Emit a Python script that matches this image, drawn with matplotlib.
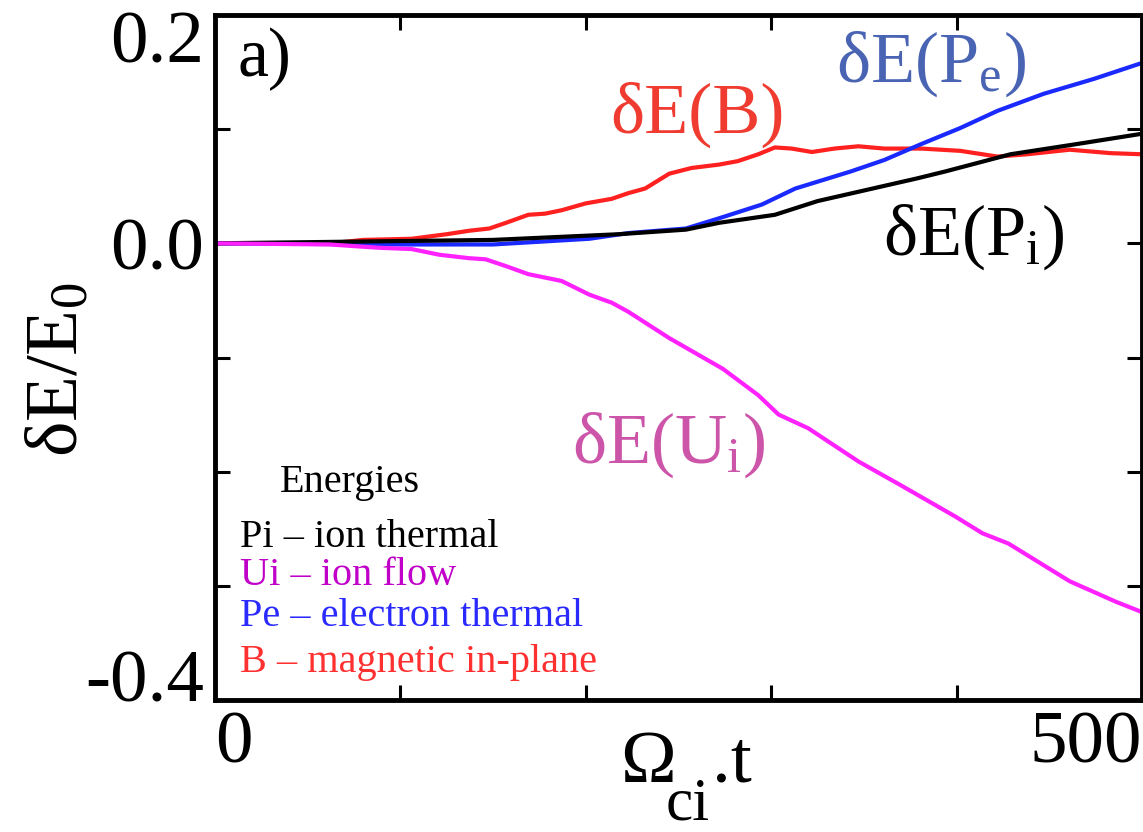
import numpy as np
import matplotlib
matplotlib.use("Agg")
import matplotlib.pyplot as plt
import matplotlib.transforms as mtransforms

plt.rcParams['font.family'] = ['Liberation Serif', 'DejaVu Serif']
plt.rcParams['mathtext.fontset'] = 'custom'
plt.rcParams['mathtext.rm'] = 'Liberation Serif'
plt.rcParams['mathtext.it'] = 'Liberation Serif:italic'

# energy changes (time in 1/Omega_ci, dE/E0)
t_b = [0, 62, 80, 106, 125, 137, 148, 157, 169, 178, 187, 200, 214, 223, 232, 245, 257,
       272, 282, 293, 302, 311, 322, 334, 347, 361, 374, 381, 402, 422, 438, 461, 483, 500]
e_b = [0, 0, 0.003, 0.004, 0.008, 0.011, 0.013, 0.018, 0.025, 0.026, 0.029, 0.035, 0.039,
       0.044, 0.048, 0.061, 0.066, 0.069, 0.072, 0.078, 0.084, 0.083, 0.080, 0.083, 0.085,
       0.083, 0.083, 0.083, 0.081, 0.076, 0.078, 0.082, 0.079, 0.078]

t_pe = [0, 100, 150, 202, 223, 254, 272, 295, 313, 343, 361, 381, 402, 422, 447, 474, 500]
e_pe = [0, -0.001, -0.001, 0.004, 0.009, 0.013, 0.022, 0.034, 0.048, 0.063, 0.073, 0.087,
        0.101, 0.116, 0.131, 0.144, 0.158]

t_pi = [0, 150, 218, 254, 272, 302, 325, 352, 379, 394, 429, 465, 500]
e_pi = [0, 0.003, 0.008, 0.012, 0.018, 0.025, 0.037, 0.047, 0.057, 0.063, 0.078, 0.087, 0.096]

t_ui = [0, 62, 80, 90, 106, 121, 137, 146, 157, 169, 178, 187, 202, 214, 223, 245, 274,
        293, 304, 320, 347, 370, 399, 414, 428, 461, 486, 500]
e_ui = [0, -0.001, -0.003, -0.004, -0.005, -0.010, -0.013, -0.014, -0.020, -0.027, -0.030,
        -0.033, -0.045, -0.052, -0.060, -0.083, -0.110, -0.133, -0.150, -0.162, -0.191,
        -0.212, -0.239, -0.254, -0.263, -0.296, -0.314, -0.323]

x_ticks = [0, 100, 200, 300, 400, 500]
x_labels = ['0', '', '', '', '', '500']
y_ticks = [-0.4, -0.3, -0.2, -0.1, 0.0, 0.1, 0.2]

W, H = 1143, 832
fig = plt.figure(figsize=(W / 100, H / 100), dpi=100)
ax = fig.add_axes([215 / W, (H - 700) / H, 927 / W, 685 / H])

ax.plot(t_b, e_b, color='#ff2020', lw=3)
ax.plot(t_pe, e_pe, color='#1a2aff', lw=3)
ax.plot(t_pi, e_pi, color='black', lw=3)
ax.plot(t_ui, e_ui, color='#ff22ff', lw=3)

ax.set_xlim(0, 500)
ax.set_ylim(-0.4, 0.2)
ax.set_xticks(x_ticks)
ax.set_xticklabels(x_labels, fontsize=54)
labs = ax.get_xticklabels()
labs[0].set_ha('left')
labs[-1].set_ha('right')
ax.set_yticks(y_ticks)
ax.set_yticklabels([])
ax.tick_params(direction='in', length=11, width=2.2, top=True, right=True, pad=8)
for s in ax.spines.values():
    s.set_linewidth(3.5)

# y tick labels, end labels pulled inward like the original
ytr = mtransforms.blended_transform_factory(ax.transAxes, ax.transData)
for val, txt in [(0.158, '0.2'), (-0.0228, '0.0'), (-0.401, '-0.4')]:
    ax.text(-0.012, val, txt, transform=ytr, ha='right', va='baseline', fontsize=54)

# axis labels
fig.text(60 / W, 1 - 370 / H, 'δE/E$_0$', rotation=90, ha='center', va='center', fontsize=54)
fig.text(648 / W, 1 - 782 / H, 'Ω', ha='center', va='baseline', fontsize=54)
fig.text(732 / W, 1 - 782 / H, '.t', ha='center', va='baseline', fontsize=54)
fig.text(688 / W, 0.0, 'ci', ha='center', va='bottom', fontsize=44)

ax.text(22 / 927, 1 - 13 / 685, 'a)', transform=ax.transAxes, ha='left', va='top', fontsize=50)

# curve labels
fig.text(610 / W, 1 - 133 / H, 'δE(B)', color='#f03c30', fontsize=52, va='baseline')
fig.text(836 / W, 1 - 82 / H, 'δE(P$_{\\rm e}$)', color='#4a64b4', fontsize=52, va='baseline')
fig.text(883 / W, 1 - 255 / H, 'δE(P$_{\\rm i}$)', color='black', fontsize=52, va='baseline')
fig.text(572 / W, 1 - 463 / H, 'δE(U$_{\\rm i}$)', color='#cc55aa', fontsize=52, va='baseline')

# energies key
fig.text(280 / W, 1 - 492 / H, 'Energies', fontsize=29, va='baseline')
key = [('Pi – ion thermal', 'black', 547),
       ('Ui – ion flow', '#c000c8', 585),
       ('Pe – electron thermal', '#2a2aff', 626),
       ('B – magnetic in-plane', '#ff3030', 672)]
for txt, col, yb in key:
    fig.text(240 / W, 1 - yb / H, txt, color=col, fontsize=29, va='baseline')

fig.savefig('out.png', dpi=100)
